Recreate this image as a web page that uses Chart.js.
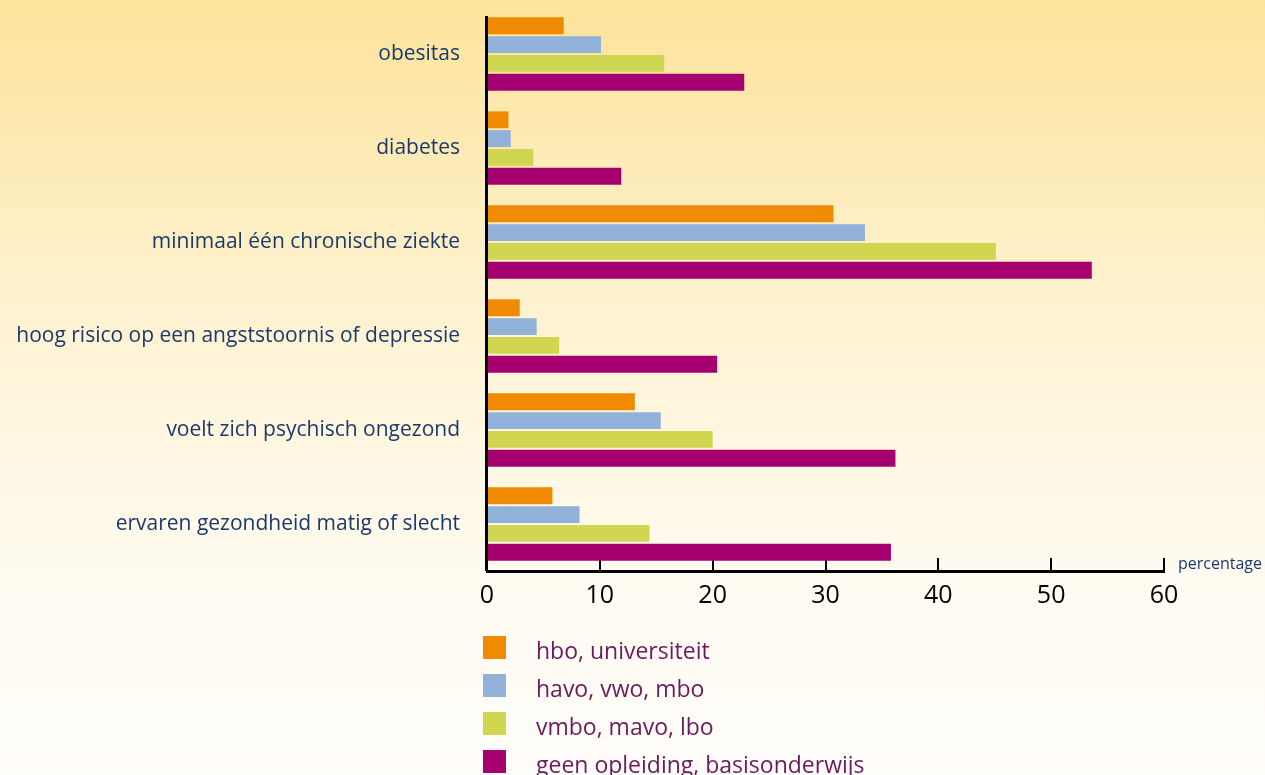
<!DOCTYPE html>
<html>
<head>
<meta charset="utf-8">
<script src="https://cdn.jsdelivr.net/npm/chart.js@4.4.1/dist/chart.umd.min.js"></script>
<style>
  html, body { margin: 0; padding: 0; }
  body {
    width: 1265px; height: 775px; overflow: hidden; position: relative;
    background: linear-gradient(to bottom, #fde39a 0%, #fdedbd 25%, #fff5dc 50%, #fffbf1 75%, #fffdfa 100%);
    font-family: "Open Sans", sans-serif;
  }
  #grafiek { position: absolute; left: 0; top: 0; }
  #legenda { position: absolute; left: 483px; top: 636px; }
  .rij { position: absolute; left: 0; height: 23px; white-space: nowrap; }
  .blok { position: absolute; left: 0; top: 0; width: 23px; height: 23px; }
  .tekst { position: absolute; left: 53px; top: -1px; font-size: 23px; color: #6d1a5c; line-height: 30px; }
</style>
</head>
<body>
<canvas id="grafiek" width="1265" height="775"></canvas>
<div id="legenda"></div>
<script>
const categorieen = [
  'obesitas',
  'diabetes',
  'minimaal één chronische ziekte',
  'hoog risico op een angststoornis of depressie',
  'voelt zich psychisch ongezond',
  'ervaren gezondheid matig of slecht'
];

const reeksNamen = ['hbo, universiteit', 'havo, vwo, mbo', 'vmbo, mavo, lbo', 'geen opleiding, basisonderwijs'];
const kleuren = ['#f08a00', '#92b1d9', '#d0d650', '#a60070'];

const hbo = [6.8, 1.9, 30.7, 2.9, 13.1, 5.8];
const havo = [10.1, 2.1, 33.5, 4.4, 15.4, 8.2];
const vmbo = [15.7, 4.1, 45.1, 6.4, 20.0, 14.4];
const geen = [22.8, 11.9, 53.6, 20.4, 36.2, 35.8];

const xTicks = [0, 10, 20, 30, 40, 50, 60];

const reeksen = [hbo, havo, vmbo, geen];

// y-as lijn (begint iets onder de bovenrand) en tekst "percentage"
const asLabel = {
  id: 'asLabel',
  afterDatasetsDraw(chart) {
    const x = chart.scales.x;
    const y = chart.scales.y;
    const ctx = chart.ctx;
    ctx.save();
    ctx.strokeStyle = '#000';
    ctx.lineWidth = 3;
    ctx.beginPath();
    ctx.moveTo(y.right - 0.5, y.top + 9);
    ctx.lineTo(y.right - 0.5, y.bottom);
    ctx.stroke();
    ctx.font = '16px "Open Sans", sans-serif';
    ctx.fillStyle = '#1b3a6b';
    ctx.textBaseline = 'middle';
    ctx.fillText('percentage', x.right + 14, x.top - 7);
    ctx.restore();
  }
};

new Chart(document.getElementById('grafiek'), {
  type: 'bar',
  data: {
    labels: categorieen,
    datasets: reeksen.map((d, i) => ({
      label: reeksNamen[i],
      data: d,
      backgroundColor: kleuren[i],
      borderWidth: 0,
      categoryPercentage: 0.8,
      barPercentage: 0.9
    }))
  },
  options: {
    indexAxis: 'y',
    responsive: false,
    animation: false,
    layout: { padding: { top: 7, right: 101, left: 0, bottom: 0 } },
    scales: {
      x: {
        min: 0,
        max: 60,
        afterBuildTicks: s => { s.ticks = xTicks.map(v => ({ value: v })); },
        afterFit: s => { s.height = 775 - 571; },
        border: { display: true, color: '#000', width: 3 },
        grid: { drawOnChartArea: false, drawTicks: true, tickLength: -13, color: '#000', lineWidth: 2 },
        ticks: { color: '#000', font: { size: 25, family: '"Open Sans", sans-serif' }, padding: 23 }
      },
      y: {
        afterFit: s => { s.width = 487; },
        border: { display: false },
        // afstand label-as via tickLength, zodat de bovenmarge klein blijft
        grid: { display: false, drawTicks: true, tickLength: 33 },
        ticks: { color: '#1b3a6b', font: { size: 21, family: '"Open Sans", sans-serif' }, padding: -6 }
      }
    },
    plugins: {
      legend: { display: false },
      tooltip: { enabled: false }
    }
  },
  plugins: [asLabel]
});

// legenda onder de grafiek
const legenda = document.getElementById('legenda');
reeksNamen.forEach((naam, i) => {
  const rij = document.createElement('div');
  rij.className = 'rij';
  rij.style.top = (i * 38) + 'px';
  rij.innerHTML = '<div class="blok" style="background:' + kleuren[i] + '"></div><div class="tekst">' + naam + '</div>';
  legenda.appendChild(rij);
});
</script>
</body>
</html>
